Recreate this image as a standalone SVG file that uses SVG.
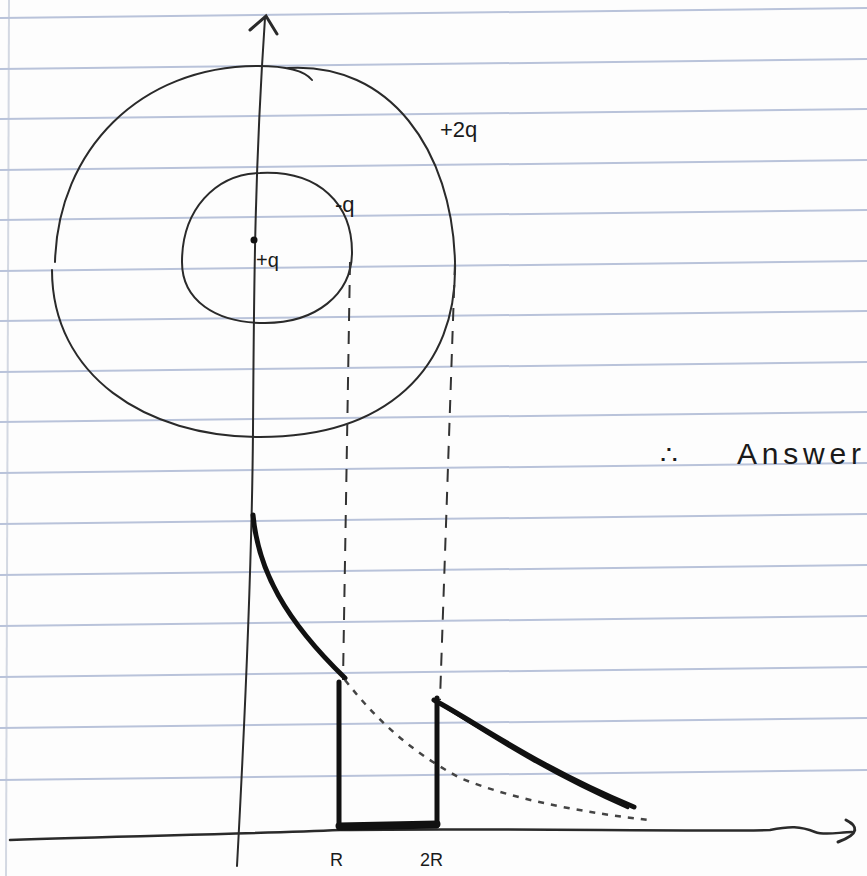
<svg xmlns="http://www.w3.org/2000/svg" width="867" height="876" viewBox="0 0 867 876">
<style>
.rule{stroke:#b9c3da;stroke-width:2;fill:none}
.ink{stroke:#2a2a2a;stroke-width:2;fill:none;stroke-linecap:round}
.thick{stroke:#111;stroke-width:5;fill:none;stroke-linecap:round;stroke-linejoin:round}
.dash{stroke:#333;stroke-width:2;fill:none;stroke-dasharray:13 10}
.dot{stroke:#444;stroke-width:2.5;fill:none;stroke-dasharray:6 7}
.lbl{font-family:"Liberation Sans",Arial,sans-serif;fill:#1a1a1a}
</style>
<rect width="867" height="876" fill="#fdfdfd"/>
<g id="paper">
<line class="rule" x1="9" y1="0" x2="6" y2="876" style="stroke:#d3d8e2"/>
<line class="rule" x1="0" y1="18" x2="867" y2="8"/>
<line class="rule" x1="0" y1="69" x2="867" y2="59"/>
<line class="rule" x1="0" y1="119" x2="867" y2="109"/>
<line class="rule" x1="0" y1="170" x2="867" y2="160"/>
<line class="rule" x1="0" y1="220" x2="867" y2="210"/>
<line class="rule" x1="0" y1="271" x2="867" y2="261"/>
<line class="rule" x1="0" y1="321" x2="867" y2="311"/>
<line class="rule" x1="0" y1="372" x2="867" y2="362"/>
<line class="rule" x1="0" y1="422" x2="867" y2="412"/>
<line class="rule" x1="0" y1="473" x2="867" y2="463"/>
<line class="rule" x1="0" y1="524" x2="867" y2="514"/>
<line class="rule" x1="0" y1="575" x2="867" y2="565"/>
<line class="rule" x1="0" y1="626" x2="867" y2="616"/>
<line class="rule" x1="0" y1="677" x2="867" y2="667"/>
<line class="rule" x1="0" y1="728" x2="867" y2="718"/>
<line class="rule" x1="0" y1="780" x2="867" y2="770"/>
</g>
<g id="axes">
<path class="ink" d="M237 866 C246 700 252 560 253 430 C254 300 254 180 265 18"/>
<path class="ink" d="M250 30 L266 16 L277 34" style="stroke-width:3"/>
<path class="ink" d="M10 840 C120 836 250 834 340 830 C500 828 700 832 770 830 C790 826 800 826 815 832 C825 836 840 832 852 832" style="stroke-width:2.5"/>
<path class="ink" d="M846 820 C858 826 860 834 838 842" style="stroke-width:3"/>
</g>
<g id="outer-shell">
<path class="ink" d="M55 262 C58 150 140 66 258 66 C285 66 304 70 312 80"/>
<path class="ink" d="M288 68 C390 62 452 150 455 262 C458 370 385 437 260 437 C145 437 52 375 52 270"/>
<text class="lbl" x="440" y="137" font-size="22">+2q</text>
</g>
<g id="inner-shell">
<path class="ink" d="M260 173 C320 170 352 205 352 252 C352 295 315 323 265 323 C215 323 182 300 182 262 C182 210 215 174 260 173 Z"/>
<text class="lbl" x="335" y="212" font-size="22">-q</text>
</g>
<g id="charge">
<circle cx="254" cy="240" r="3.5" fill="#111"/>
<text class="lbl" x="256" y="267" font-size="20">+q</text>
</g>
<g id="projections">
<path class="dash" d="M350 262 L343 680"/>
<path class="dash" d="M455 262 L440 700"/>
</g>
<g id="graph">
<path class="thick" d="M253 515 C258 570 285 620 345 678"/>
<path class="dot" d="M345 680 C378 722 412 752 460 778 C520 802 590 813 648 820"/>
<path class="thick" d="M339 682 L339 828 L437 826 L437 698"/>
<path class="thick" d="M339 826 L437 824" style="stroke-width:7"/>
<path class="thick" d="M434 700 C480 725 540 768 634 807"/>
<path class="thick" d="M440 704 C485 732 545 772 628 808" style="stroke-width:2.5"/>
</g>
<g id="labels">
<text class="lbl" x="330" y="866" font-size="18">R</text>
<text class="lbl" x="420" y="866" font-size="18">2R</text>
<text class="lbl" x="660" y="464" font-size="28">∴</text>
<text class="lbl" x="737" y="464" font-size="30" textLength="124" lengthAdjust="spacing">Answer</text>
</g>
</svg>
